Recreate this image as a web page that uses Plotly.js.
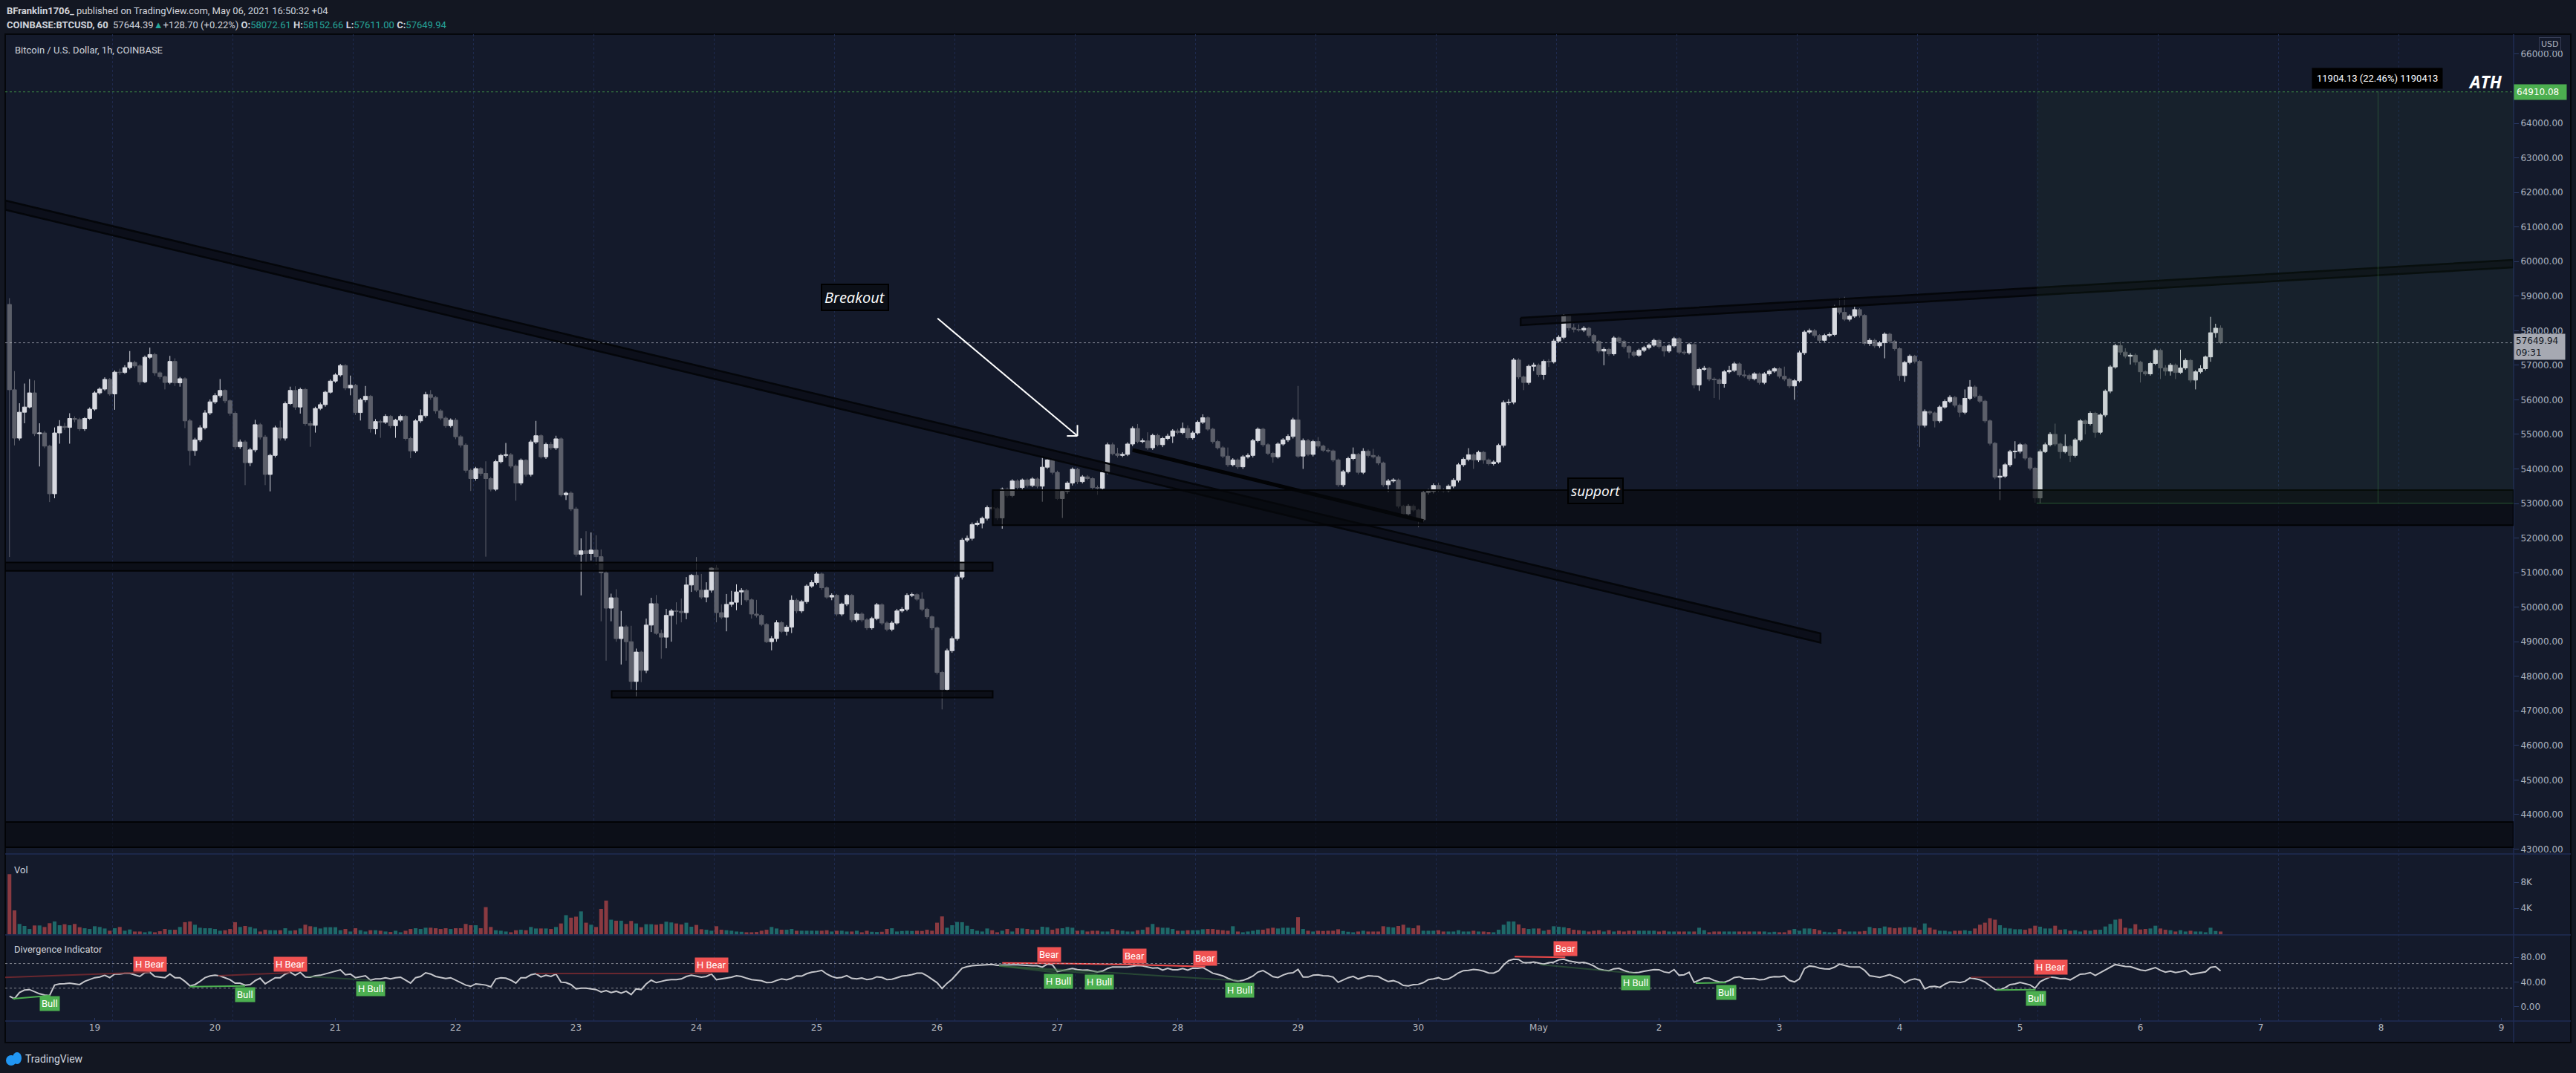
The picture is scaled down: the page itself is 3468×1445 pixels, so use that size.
<!DOCTYPE html>
<html><head><meta charset="utf-8">
<script src="https://cdn.plot.ly/plotly-3.0.1.min.js"></script>
<style>html,body{margin:0;padding:0;background:#131722;}#chart{width:3468px;height:1445px;}</style>
</head><body><div id="chart"></div>
<script>
// ---------------- DATA ----------------
// hourly candles, first candle at 2021-04-18 07:00 (hour -17 relative to 2021-04-19 00:00)
const FIRST_HOUR = -17;
const opens = [
58760,56290,54890,55640,55790,56200,55020,55040,54660,53280,
55040,55230,55200,55460,55430,55160,55460,55730,56200,56310,
56590,56170,56800,56790,56930,57080,56980,56520,57230,57310,
56780,56670,56500,57110,56490,56610,55390,54530,54840,55190,
55620,55940,56120,56270,55970,55610,54640,54780,54180,54550,
55280,54920,53840,54390,55190,54890,55890,56270,55790,56300,
55310,55260,55750,55860,56220,56540,56720,56990,56340,56420,
55630,56000,56100,55160,55370,55350,55520,55250,55410,55520,
54880,54520,55390,55540,56150,56070,55680,55470,55250,55410,
54930,54690,53960,53720,54010,53870,53720,53410,54210,54390,
54410,54080,53590,54250,53840,54780,54960,54350,54710,54610,
54870,53250,53300,52840,51530,51630,51550,51650,51460,50990,
49970,50270,49090,49430,49000,47850,48700,48170,49480,50100,
49240,49130,49760,49890,49880,49840,50640,50920,50490,50290,
50490,51130,49840,49710,50080,50140,50440,50480,50210,49800,
49760,49500,49000,49090,49550,49300,49420,50200,49890,50160,
50610,50710,50960,50560,50290,50340,49800,50090,50340,49630,
49800,49630,49400,49670,50070,49540,49360,49540,49890,49940,
50340,50360,50230,49940,49720,49400,48110,47620,48740,49090,
50870,51940,51990,52390,52430,52570,52880,52850,52580,53410,
53230,53650,53460,53680,53520,53710,53500,54050,54260,53900,
53140,53350,53590,53990,53630,53770,53720,53460,53440,53900,
54700,54440,54390,54420,54720,55170,54790,54810,54610,54970,
54700,54880,54950,55100,55050,55170,54900,55040,55350,55480,
55150,54790,54610,54370,54120,54260,54060,54350,54390,54820,
55150,54700,54450,54350,54720,54840,54940,55420,54370,54820,
54420,54790,54660,54540,54520,54260,53540,53920,54300,54420,
53900,54510,54390,54350,54170,53540,53650,53680,52920,52700,
52920,52810,52530,53320,53350,53520,53390,53370,53500,53670,
54120,54280,54410,54260,54480,54260,54150,54200,54680,55920,
55930,57150,56660,56500,56970,57000,56730,57110,57100,57700,
57810,58420,58080,58040,58020,58070,57860,57690,57410,57460,
57330,57790,57690,57540,57380,57290,57430,57510,57580,57720,
57540,57410,57560,57770,57380,57360,57600,56430,56880,56910,
56600,56580,56470,56810,56850,57040,56720,56700,56610,56750,
56500,56750,56830,56900,56680,56600,56400,56550,57360,57960,
58000,57860,57720,57860,57890,58690,58530,58330,58420,58610,
58440,57630,57720,57560,57650,57900,57690,57480,56700,57080,
57260,57110,55260,55660,55620,55390,55790,55950,56070,55840,
55640,56040,56370,56100,55960,55390,54740,53760,53790,54120,
54500,54510,54700,54310,54020,53160,54500,54700,55000,54720,
54500,54650,54390,54840,55390,55310,55610,55060,55560,56250,
56950,57570,57380,57260,57290,57090,56810,56750,57050,57430,
56920,56830,57000,56790,56920,57140,56570,56810,56900,57240,
57940,58072.61];
const highs = [
58940,56830,55900,56470,56600,56560,55320,55100,54700,55200,
55410,55330,55610,55520,55480,55500,55780,56250,56360,56650,
56630,56850,56900,57000,57410,57130,57030,57280,57510,57360,
56820,56700,57270,57200,56660,56650,55450,54900,55260,55700,
56010,56190,56600,56300,56010,55660,54850,54830,54610,55420,
55330,54980,54440,55250,55400,55950,56380,56390,56350,56340,
55380,55800,55920,56260,56590,56770,57040,57030,56700,56460,
56050,56400,56140,55440,55420,55580,55560,55450,55570,55560,
54930,55440,55720,56230,56280,56110,55730,55520,55460,55470,
54980,54740,54010,54060,54050,54220,53770,54270,54440,54750,
54460,54130,54300,54280,54840,55390,55000,54760,54780,54960,
54910,53340,53350,52900,51990,52200,52160,52080,51670,51050,
50390,50520,49890,49480,49460,48800,48740,49670,50270,50350,
49350,49950,49950,50140,50250,50870,50960,51450,50960,50720,
51150,51220,50080,50380,50470,50660,50550,50530,50250,50210,
49800,49540,49160,49620,49600,49480,50340,50250,50210,50660,
50780,51020,51000,50600,50400,50380,50130,50380,50380,49850,
49850,49680,49720,50120,50110,49590,49600,49950,50000,50400,
50420,50400,50430,49980,49760,49440,48160,48800,49150,50940,
52000,52070,52450,52500,52620,52940,52930,52890,53460,53460,
53700,53700,53720,53720,53760,53750,54340,54300,54300,53950,
53400,53640,54040,54030,53820,53820,53760,53520,53960,54760,
54760,54610,54480,54770,55230,55300,54880,55060,55020,55020,
54930,55020,55150,55160,55340,55260,55100,55400,55580,55520,
55190,54840,54660,54620,54310,54300,54400,54450,54870,55200,
55190,54740,54490,54770,54890,55000,55480,56400,54880,54870,
54840,54920,54700,54600,54560,54300,53970,54350,54620,54460,
54600,54560,54580,54400,54210,53710,53730,53720,52960,52980,
52970,52850,53380,53420,53580,53600,53440,53550,53730,54170,
54330,54600,54450,54530,54520,54300,54250,54730,55980,56020,
57210,57200,56700,57020,57070,57050,57160,57180,57760,57870,
58480,58470,58200,58180,58130,58110,57900,57730,57520,57500,
57840,57830,57730,57580,57430,57480,57560,57630,57770,57760,
57580,57610,57820,57810,57440,57650,57640,56930,56980,56950,
56650,56620,56860,56980,57100,57080,56860,56750,56800,56790,
56800,56880,56950,56940,56960,56640,56600,57420,58010,58060,
58050,57900,57910,57950,58750,58950,58980,58470,58700,58650,
58480,57780,57770,57700,57950,57940,57730,57520,57130,57310,
57300,57150,55720,55690,55660,55840,56010,56130,56110,55890,
56300,56570,56420,56150,56000,55430,54780,54000,54170,54550,
54800,54750,54740,54350,54060,54560,54760,55060,55310,54760,
55000,54700,54890,55440,55430,55660,55650,55610,56300,57000,
57620,57690,57490,57350,57340,57130,56850,57100,57480,57480,
57000,57060,57050,57450,57200,57180,56860,57000,57280,58400,
58200,58152.66];
const lows = [
51450,54680,54820,55320,55750,54950,54070,54600,53040,53150,
54730,55130,54730,55350,55100,55100,55420,55680,56150,56260,
56120,55710,56720,56750,56880,56920,56430,56480,57180,56700,
56600,56300,56450,56400,56380,55180,54100,54380,54780,55140,
55560,55880,56060,55900,55540,54560,54580,53530,54080,54480,
54850,53530,53350,54330,54820,54820,55850,55710,55600,55250,
54640,55050,55700,55800,56180,56490,56670,56280,56130,55560,
55400,55930,55050,55000,54900,55300,55180,54900,55360,54820,
54310,54460,55330,55480,56000,55600,55410,55190,55200,54860,
54620,53890,53360,53660,53800,51460,53350,53360,54160,54330,
54020,53080,53530,53780,53780,54720,54300,54290,54550,54550,
53200,53100,52780,51460,50340,51280,51350,51220,49590,48450,
49590,49000,48340,48450,47620,47420,47830,48090,49280,49200,
48510,48810,49000,49500,49560,49650,50440,50440,50230,50140,
50420,49560,49650,49300,50010,49910,50060,50150,49670,49700,
49450,48960,48750,49000,49250,49180,49250,49820,49830,50100,
50560,50650,50500,50240,50200,49740,49740,50030,49560,49570,
49570,49340,49350,49620,49480,49300,49300,49490,49840,49880,
50290,50180,49880,49660,49340,48050,47040,47560,48680,49030,
50800,51880,51930,52340,52280,52510,52800,52520,52270,53170,
53180,53400,53400,53460,53470,53440,53050,54000,53840,53100,
52580,53280,53520,53560,53580,53670,53390,53250,53400,53850,
54390,54330,54340,54370,54660,54740,54740,54550,54550,54650,
54630,54830,54750,55000,55000,54850,54850,54990,55300,55100,
54730,54560,54310,54060,54070,54000,54000,54300,54330,54770,
54640,54400,54180,54300,54670,54780,54880,54320,54000,54370,
54360,54600,54490,54470,54200,53480,53480,53870,54250,53840,
53850,54330,54300,54110,53480,53330,53600,52860,52640,52640,
52760,52310,52480,53260,53290,53330,53310,53320,53440,53610,
54060,54220,54000,54200,54150,54100,54100,54150,54620,55850,
55870,56600,56280,56440,56830,56660,56580,56950,57050,57650,
57750,58000,57950,57970,57960,57800,57620,57350,57000,57270,
57280,57640,57480,57200,57230,57240,57380,57460,57530,57480,
57250,57360,57510,57320,57300,57310,56330,56260,56840,56540,
56050,56000,56350,56760,56800,56660,56640,56550,56560,56440,
56450,56700,56780,56620,56540,56340,56000,56500,57300,57900,
57800,57660,57670,57810,57840,58470,58280,58270,58370,58380,
57570,57560,57500,57500,57200,57630,57420,56550,56520,57030,
57050,54630,55200,55560,55200,55330,55740,55900,55780,55500,
55580,55990,56050,55900,55330,54680,53700,53100,53740,54060,
54300,54450,54250,53960,53020,53006,54460,54650,54660,54300,
54450,54200,54330,54790,55000,55260,54900,55000,55500,56190,
56900,57300,57200,57020,57000,56500,56700,56700,57000,56600,
56700,56700,56600,56750,56870,56500,56300,56760,56850,57100,
57800,57611];
const closes = [
56290,54890,55640,55790,56200,55020,55040,54660,53280,55040,
55230,55200,55460,55430,55160,55460,55730,56200,56310,56590,
56170,56800,56790,56930,57080,56980,56520,57230,57310,56780,
56670,56500,57110,56490,56610,55390,54530,54840,55190,55620,
55940,56120,56270,55970,55610,54640,54780,54180,54550,55280,
54920,53840,54390,55190,54890,55890,56270,55790,56300,55310,
55260,55750,55860,56220,56540,56720,56990,56340,56420,55630,
56000,56100,55160,55370,55350,55520,55250,55410,55520,54880,
54520,55390,55540,56150,56070,55680,55470,55250,55410,54930,
54690,53960,53720,54010,53870,53720,53410,54210,54390,54410,
54080,53590,54250,53840,54780,54960,54350,54710,54610,54870,
53250,53300,52840,51530,51630,51550,51650,51460,50990,49970,
50270,49090,49430,49000,47850,48700,48170,49480,50100,49240,
49130,49760,49890,49880,49840,50640,50920,50490,50290,50490,
51130,49840,49710,50080,50140,50440,50480,50210,49800,49760,
49500,49000,49090,49550,49300,49420,50200,49890,50160,50610,
50710,50960,50560,50290,50340,49800,50090,50340,49630,49800,
49630,49400,49670,50070,49540,49360,49540,49890,49940,50340,
50360,50230,49940,49720,49400,48110,47620,48740,49090,50870,
51940,51990,52390,52430,52570,52880,52850,52580,53410,53230,
53650,53460,53680,53520,53710,53500,54050,54260,53900,53140,
53350,53590,53990,53630,53770,53720,53460,53440,53900,54700,
54440,54390,54420,54720,55170,54790,54810,54610,54970,54700,
54880,54950,55100,55050,55170,54900,55040,55350,55480,55150,
54790,54610,54370,54120,54260,54060,54350,54390,54820,55150,
54700,54450,54350,54720,54840,54940,55420,54370,54820,54420,
54790,54660,54540,54520,54260,53540,53920,54300,54420,53900,
54510,54390,54350,54170,53540,53650,53680,52920,52700,52920,
52810,52530,53320,53350,53520,53390,53370,53500,53670,54120,
54280,54410,54260,54480,54260,54150,54200,54680,55920,55930,
57150,56660,56500,56970,57000,56730,57110,57100,57700,57810,
58420,58080,58040,58020,58070,57860,57690,57410,57460,57330,
57790,57690,57540,57380,57290,57430,57510,57580,57720,57540,
57410,57560,57770,57380,57360,57600,56430,56880,56910,56600,
56580,56470,56810,56850,57040,56720,56700,56610,56750,56500,
56750,56830,56900,56680,56600,56400,56550,57360,57960,58000,
57860,57720,57860,57890,58690,58530,58330,58420,58610,58440,
57630,57720,57560,57650,57900,57690,57480,56700,57080,57260,
57110,55260,55660,55620,55390,55790,55950,56070,55840,55640,
56040,56370,56100,55960,55390,54740,53760,53790,54120,54500,
54510,54700,54310,54020,53160,54500,54700,55000,54720,54500,
54650,54390,54840,55390,55310,55610,55060,55560,56250,56950,
57570,57380,57260,57290,57090,56810,56750,57050,57430,56920,
56830,57000,56790,56920,57140,56570,56810,56900,57240,57940,
58072.61,57649.94];
const volumes = [
9220,3690,1614,1306,845,1383,1383,1153,1729,1998,
1421,1575,1421,1614,1114,960,845,1268,1153,922,
576,960,1153,576,768,461,461,346,461,346,
500,845,730,730,1153,1883,1998,1498,1037,960,
960,845,576,653,845,1883,1153,1306,1153,922,
461,730,653,653,653,960,576,653,922,1498,
1268,1153,922,1114,1114,1114,653,845,461,960,
653,461,653,653,576,461,384,576,346,576,
845,960,845,1037,1037,960,845,960,845,960,
960,1614,1421,1421,960,4188,1153,653,576,461,
346,653,730,653,1153,922,922,922,845,1153,
1690,2958,2574,2728,3535,1806,1498,1153,3919,5187,
2267,2113,2113,1614,2075,1690,1114,1575,1575,1498,
1614,1960,1844,1690,1537,1806,1191,1460,807,730,
576,1268,730,653,576,461,423,346,346,384,
576,730,1153,922,730,730,845,576,576,576,
576,576,576,653,461,576,576,461,461,576,
346,576,423,384,423,845,960,461,538,576,
538,576,538,730,576,1806,2766,1037,1421,1921,
1883,1345,845,576,461,922,653,346,576,845,
461,960,922,845,730,730,1191,1114,730,922,
960,1153,1037,576,653,461,576,576,461,461,
845,653,576,461,461,653,730,1114,1614,1114,
1037,1037,845,576,576,653,653,653,807,845,
845,730,653,576,1268,461,346,461,576,730,
730,922,1037,922,1037,1037,1037,2651,845,576,
461,576,538,576,576,807,538,423,346,461,
576,461,461,461,1268,1153,1076,1306,1498,1037,
960,1383,576,576,576,653,461,461,461,653,
461,461,576,461,461,384,346,730,1498,1998,
1998,1537,960,845,922,922,576,730,1268,1191,
1114,960,730,653,576,461,576,653,461,653,
461,576,461,576,576,576,576,576,576,461,
576,461,461,461,461,461,461,1037,653,346,
461,461,461,461,461,461,461,461,461,461,
461,346,423,346,346,653,845,576,922,922,
845,653,423,346,346,845,461,461,461,461,
538,1153,960,960,1229,1076,960,1037,1114,1153,
1037,730,1690,1037,768,576,576,461,576,
576,653,538,922,1498,1806,2497,2267,1421,999,
922,807,807,730,922,1345,1191,922,922,1345,
730,807,576,653,461,653,576,730,730,1229,
1614,2267,2382,1037,922,1575,768,845,922,1345,
922,730,653,461,653,461,576,461,461,346,
1037,538,461];
const rsiValues = [
16.9,12.9,22.9,26.9,27.7,24.5,20.9,18.9,18.1,35,
37,37.4,38.2,37,35.8,41,43.8,47,48.2,51,
47,53,53,54.2,54.2,51.8,49,55,55.8,49,
48.2,47,53,47,47,41,33.7,35.8,41,47,
49.8,51,49.8,47,43.8,38.2,38.2,35,35.8,42.2,
46.2,37,42.2,47,47,53,55.8,51,55.8,48.2,
47.8,50.2,51,53,55,57,59.8,51.8,53,47,
49,50.2,43,45,45,47,45,47,47.8,43,
38.2,47,49,55,53,49,47,45.8,47,43,
39.8,35,33,37,36.2,35,32.1,45,47,46.2,
43,38.2,47,47,51.8,53.4,48.2,51,49,53,
39.8,39,35.8,28.9,30.1,30.1,28.9,27.7,23.7,26.1,
22.9,25,22.1,25,19.7,28.9,27.7,37,43,39,
41,43,43.8,43.8,45,49,51,49,47.8,49,
53,43.8,45,47,47.8,50.2,49,46.2,44,43,
42,39,39.5,42.5,45,43.5,46,50,49.5,53.5,
56,57,59,53,49,46.5,47.5,50.5,46,45,
46.5,44,45,48.5,47.5,44,44.5,47,49.5,50.5,
52,54.5,54.5,50,44.5,39,29.5,38,44.5,53,
62.5,65,66.5,67,67.5,68.5,68.6,67,67.5,68.5,
68.1,67.9,67.3,67.5,66.5,66.5,64.2,69.1,68,57,
58.8,59.7,61.8,60.2,59.2,59.6,58,56.2,57.7,62,
64.5,64.5,64.6,64.3,65.7,66.8,66.1,64.5,62.5,63.1,
59.3,62.2,59.8,59.8,62,59.4,62.5,62.4,63.5,59,
54.3,52.3,50,46,43,41.6,42.6,45.7,49.7,56.2,
58.7,54,48.7,47.3,51.3,54.2,55,60.5,48,48,
51,51.8,50.2,49.8,48,39.5,43,47,49.3,45,
47.5,50.2,49.5,49,44.5,40.8,42.2,39.5,34.4,33.7,
35.8,36.2,39,43.9,45,47,43.8,45,49.5,55,
58.5,59,60.5,59.6,57.7,54.8,54.5,58,67.7,74.7,
77.1,76.5,71.3,71.2,72.6,70.4,69,71.2,72.2,76,
77,74.3,73.2,71.3,71.9,69.7,66,61,59.2,58.5,
61.5,62.2,58.7,56,54.9,55.6,57.5,58.7,60.1,60,
56.4,55,60.2,51,51.8,55.8,39.5,43,46.5,46.3,
42.5,40.2,39.8,42.5,47.3,48.5,45.4,45.4,45.6,43.5,
44.3,47.5,48.7,48.3,49.7,42.7,40.2,45,61.7,66,
65.1,62.6,61.3,61,64,69.1,67,64.6,64.4,64.5,
59,50.2,48.9,47.6,49.7,52,48.6,45.6,38.6,43.1,
45,43,28.8,32.5,33,31.3,36.5,40.2,40.2,39.2,
41,46.5,45.5,43.5,40,34.5,28,27.5,30.8,35.8,
37,39.2,37.6,35.3,30,40.5,44.7,48,47.2,45.3,
45.6,43.5,48,52.7,53.2,55.4,50.7,55,59,63.2,
68.4,66.8,65.3,65,62.6,59.5,58.3,60.6,63.5,59,
56,57.8,55.5,56.7,58.9,52.2,53.5,54.9,56.5,63.7,
65,58];

// x-axis day ticks
const dayTickDates = ['2021-04-19','2021-04-20','2021-04-21','2021-04-22','2021-04-23','2021-04-24','2021-04-25','2021-04-26','2021-04-27','2021-04-28','2021-04-29','2021-04-30','2021-05-01','2021-05-02','2021-05-03','2021-05-04','2021-05-05','2021-05-06','2021-05-07','2021-05-08','2021-05-09'];
const dayTickLabels = ['19','20','21','22','23','24','25','26','27','28','29','30','May','2','3','4','5','6','7','8','9'];
const volTickVals = [4000,8000], volTickText = ['4K','8K'];
const rsiTickVals = [0,40,80], rsiTickText = ['0.00','40.00','80.00'];

// divergence indicator: lines (kind, hour1, value1, hour2, value2) and labels (kind, hour, value)
const divLineKind = ['Bull','H Bear','Bull','H Bear','H Bull','H Bear','Bear','Bear','Bear','H Bull','H Bull','H Bull','Bear','H Bull','Bull','Bull','H Bear'];
const divLineH1 = [-16.3,-18,19,24.6,42.5,88,181,190,207,180.4,180.4,180.4,283.2,288.3,319.3,379.3,374.2];
const divLineV1 = [12.9,47.5,32.5,50.2,49,53.8,71.1,70.3,68.3,66.3,66.3,66.3,81.1,68.3,38.2,26.9,47.8];
const divLineH2 = [-8.9,11,30,39,55,123,190,207,221.5,192,200,228.4,293.3,307.3,325.4,387.1,390.2];
const divLineV2 = [18.1,55.8,33.7,55,43,53.8,70.3,68.3,65,55,53,42.2,79.9,53.8,39,27.7,48.2];
const divLabelKind = ['Bull','H Bear','Bull','H Bear','H Bull','H Bear','Bear','Bear','Bear','H Bull','H Bull','H Bull','Bear','H Bull','Bull','Bull','H Bear'];
const divLabelH = [-9,11,30,39,55,123,190.4,207.4,221.5,192.2,200.3,228.4,293.3,307.3,325.4,387.2,390.2];
const divLabelV = [17.5,56,32,56.5,41.5,55,72,69.5,66.3,53.8,53,39.8,81,51.8,35.8,26.1,51];

// key levels
const athPrice = 64910.08, lastPrice = 57649.94, measureLow = 53006;

// ---------------- HELPERS ----------------
function hd(h){
  const d = new Date(Date.UTC(2021,3,19) + Math.round(h*3600000));
  const p = n => String(n).padStart(2,'0');
  return d.getUTCFullYear()+'-'+p(d.getUTCMonth()+1)+'-'+p(d.getUTCDate())+' '+p(d.getUTCHours())+':'+p(d.getUTCMinutes())+':'+p(d.getUTCSeconds());
}
const PL=7, PR=3384, PT=46, PB=1375;
const pxX = x => (x-PL)/(PR-PL);
const pxY = y => (PB-y)/(PB-PT);

const n = closes.length;
[opens,highs,lows,volumes,rsiValues].forEach((a,i)=>{ if(a.length!==n) console.log('length mismatch', i, a.length, n); });
const times = closes.map((_,i)=>hd(FIRST_HOUR+i));
const volColors = closes.map((c,i)=> c>=opens[i] ? '#1e6869' : '#8a3a41');

// ---------------- TRACES ----------------
const traces = [];
traces.push({type:'candlestick', x:times, open:opens, high:highs, low:lows, close:closes,
  increasing:{line:{color:'#d8dae1',width:1},fillcolor:'#d8dae1'},
  decreasing:{line:{color:'#5c5f6a',width:1},fillcolor:'#5c5f6a'},
  whiskerwidth:0, xaxis:'x', yaxis:'y', hoverinfo:'skip', showlegend:false});
traces.push({type:'bar', x:times, y:volumes, marker:{color:volColors, line:{width:0}}, xaxis:'x', yaxis:'y2', hoverinfo:'skip'});
traces.push({type:'scatter', mode:'lines', x:times, y:rsiValues, line:{color:'#c6c7cc', width:2}, xaxis:'x', yaxis:'y3', hoverinfo:'skip'});

// divergence lines
const divStyle = {
  'Bull':  {color:'#4caf50', width:2},
  'H Bull':{color:'rgba(56,110,62,0.55)', width:2},
  'Bear':  {color:'#f04a4a', width:2},
  'H Bear':{color:'rgba(120,42,48,0.85)', width:2}
};
Object.keys(divStyle).forEach(k=>{
  const xs=[], ys=[];
  divLineKind.forEach((kk,i)=>{ if(kk===k){ xs.push(hd(divLineH1[i]),hd(divLineH2[i]),null); ys.push(divLineV1[i],divLineV2[i],null);} });
  traces.push({type:'scatter', mode:'lines', x:xs, y:ys, line:divStyle[k], xaxis:'x', yaxis:'y3', hoverinfo:'skip', connectgaps:false});
});

// trend-line bands drawn by the author (time/price coordinates)
function band(h1,top1,bot1,h2,top2,bot2){
  return {type:'scatter', mode:'lines', x:[hd(h1),hd(h2),hd(h2),hd(h1),hd(h1)], y:[top1,top2,bot2,bot1,top1],
    fill:'toself', fillcolor:'rgba(6,8,13,0.55)', line:{color:'#04060a', width:2.5}, xaxis:'x', yaxis:'y', hoverinfo:'skip'};
}
traces.push(band(-17.85,61767,61500,344.2,49240,48974));
traces.push(band(284.4,58372,58157,482.4,60048,59833));
traces.push({type:'scatter', mode:'lines', x:[hd(207.0),hd(265.0)], y:[54548,52490], line:{color:'#020305', width:5}, xaxis:'x', yaxis:'y', hoverinfo:'skip'});

// ---------------- SHAPES ----------------
const shapes = [];
// frame
shapes.push({type:'rect', xref:'paper', yref:'paper', x0:pxX(7), x1:pxX(3461), y0:pxY(1404), y1:pxY(46),
  fillcolor:'#141a2b', line:{color:'#05070b', width:2}, layer:'below'});
// vertical dotted grid
for(let d=0; d<20; d++){
  shapes.push({type:'line', xref:'x', yref:'paper', x0:hd(24*d+3.55), x1:hd(24*d+3.55), y0:0, y1:1,
    line:{color:'#1f2b4f', width:1, dash:'dot'}, layer:'below'});
}
// pane separators and axis line
[1150,1259,1375].forEach(y=>shapes.push({type:'line', xref:'paper', yref:'paper', x0:pxX(7), x1:pxX(3461), y0:pxY(y), y1:pxY(y), line:{color:'#1f2d55', width:1.5}}));
shapes.push({type:'line', xref:'paper', yref:'paper', x0:1, x1:1, y0:pxY(1404), y1:pxY(46), line:{color:'#1f2d55', width:1.5}});
// horizontal zones
const zone = (h1,h2,p1,p2,fill,lw)=>({type:'rect', xref:'x', yref:'y', x0:hd(h1), x1:hd(h2), y0:p1, y1:p2, fillcolor:fill, line:{color:'#020305', width:lw}});
shapes.push(zone(-17.85,179.1,51052,51292,'rgba(6,8,12,0.6)',2));
shapes.push(zone(103.1,179.1,47382,47577,'rgba(6,8,12,0.6)',2));
shapes.push(zone(179.1,482.4,52369,53387,'rgba(6,8,12,0.6)',2));
shapes.push(zone(-17.85,482.4,43052,43783,'rgba(6,8,12,0.6)',2));
// price range measurement
shapes.push({type:'rect', xref:'x', yref:'y', x0:hd(387.3), x1:hd(482.4), y0:measureLow, y1:athPrice, fillcolor:'rgba(70,130,60,0.08)', line:{width:0}});
shapes.push({type:'line', xref:'x', yref:'y', x0:hd(455.4), x1:hd(455.4), y0:measureLow, y1:athPrice, line:{color:'rgba(76,175,80,0.35)', width:1}});
shapes.push({type:'line', xref:'x', yref:'y', x0:hd(387.3), x1:hd(482.4), y0:measureLow, y1:measureLow, line:{color:'rgba(76,175,80,0.45)', width:1}});
// level lines
shapes.push({type:'line', xref:'paper', yref:'y', x0:0, x1:1, y0:athPrice, y1:athPrice, line:{color:'rgba(76,175,80,0.75)', width:1, dash:'dot'}});
shapes.push({type:'line', xref:'paper', yref:'y', x0:0, x1:1, y0:lastPrice, y1:lastPrice, line:{color:'rgba(200,203,212,0.6)', width:1, dash:'dot'}});
[70,30].forEach(v=>shapes.push({type:'line', xref:'paper', yref:'y3', x0:0, x1:1, y0:v, y1:v, line:{color:'rgba(205,205,210,0.6)', width:1, dash:'dot'}}));
// breakout arrow
shapes.push({type:'line', xref:'x', yref:'y', x0:hd(168.1), y0:58355, x1:hd(196.0), y1:54954, line:{color:'#ffffff', width:2}});
shapes.push({type:'line', xref:'x', yref:'y', x0:hd(196.0), y0:54954, x1:hd(196.0), y1:55270, line:{color:'#ffffff', width:2}});
shapes.push({type:'line', xref:'x', yref:'y', x0:hd(196.0), y0:54954, x1:hd(193.9), y1:54954, line:{color:'#ffffff', width:2}});
// TradingView logo
shapes.push({type:'circle', xref:'paper', yref:'paper', x0:pxX(8), x1:pxX(22), y0:pxY(1435), y1:pxY(1421), fillcolor:'#2196f3', line:{width:0}});
shapes.push({type:'circle', xref:'paper', yref:'paper', x0:pxX(17), x1:pxX(29), y0:pxY(1433), y1:pxY(1417), fillcolor:'#2196f3', line:{width:0}});

// ---------------- ANNOTATIONS ----------------
const ann = [];
const teal = '#26a69a';
ann.push({xref:'paper', yref:'paper', x:pxX(7), y:pxY(15), xanchor:'left', yanchor:'middle', showarrow:false,
  text:'<b>BFranklin1706_</b> published on TradingView.com, May 06, 2021 16:50:32 +04', font:{family:'Roboto', size:13, color:'#d1d4dc'}});
ann.push({xref:'paper', yref:'paper', x:pxX(7), y:pxY(34), xanchor:'left', yanchor:'middle', showarrow:false,
  text:'<b>COINBASE:BTCUSD, 60</b>  57644.39<span style="color:'+teal+'">▲</span>+128.70 (+0.22%) <b>O:</b><span style="color:'+teal+'">58072.61</span> <b>H:</b><span style="color:'+teal+'">58152.66</span> <b>L:</b><span style="color:'+teal+'">57611.00</span> <b>C:</b><span style="color:'+teal+'">57649.94</span>',
  font:{family:'Roboto', size:13, color:'#d1d4dc'}});
ann.push({xref:'paper', yref:'paper', x:pxX(18), y:pxY(68), xanchor:'left', yanchor:'middle', showarrow:false,
  text:'Bitcoin / U.S. Dollar, 1h, COINBASE', font:{family:'Roboto', size:13, color:'#d1d4dc'}});
ann.push({xref:'paper', yref:'paper', x:pxX(17), y:pxY(1171), xanchor:'left', yanchor:'middle', showarrow:false,
  text:'Vol', font:{family:'Roboto', size:13, color:'#d1d4dc'}});
ann.push({xref:'paper', yref:'paper', x:pxX(17), y:pxY(1278), xanchor:'left', yanchor:'middle', showarrow:false,
  text:'Divergence Indicator', font:{family:'Roboto', size:13, color:'#d1d4dc'}});
ann.push({xref:'paper', yref:'paper', x:pxX(32), y:pxY(1426), xanchor:'left', yanchor:'middle', showarrow:false,
  text:'TradingView', font:{family:'Roboto', size:14, color:'#d1d4dc'}});
// USD
ann.push({xref:'paper', yref:'paper', x:pxX(3433), y:pxY(60), xanchor:'center', yanchor:'middle', showarrow:false,
  text:'USD', font:{family:'DejaVu Sans', size:11, color:'#b2b5be'}, bordercolor:'#363d55', borderwidth:1, borderpad:2, bgcolor:'#141a2b'});
// axis labels for ATH & last price
ann.push({xref:'paper', yref:'y', x:1, y:athPrice, xanchor:'left', yanchor:'middle', showarrow:false,
  text:'64910.08', bgcolor:'#4caf50', font:{family:'DejaVu Sans', size:12, color:'#ffffff'}, borderpad:3, width:64, align:'left'});
ann.push({xref:'paper', yref:'y', x:1, y:lastPrice, xanchor:'left', yanchor:'middle', yshift:-5, showarrow:false,
  text:'57649.94<br>09:31', bgcolor:'#a6a9b2', font:{family:'DejaVu Sans', size:12, color:'#131722'}, borderpad:2, width:64, align:'left'});
// chart drawings text
ann.push({xref:'x', yref:'y', x:hd(151.6), y:58965, showarrow:false, text:'<i>Breakout</i>',
  font:{family:'Open Sans', size:20, color:'#ffffff'}, bgcolor:'#0b0f17', bordercolor:'#000000', borderwidth:2, borderpad:3});
ann.push({xref:'x', yref:'y', x:hd(299.3), y:53370, showarrow:false, text:'<i>support</i>',
  font:{family:'Open Sans', size:19, color:'#ffffff'}, bgcolor:'#0b0f17', bordercolor:'#000000', borderwidth:2, borderpad:3});
ann.push({xref:'x', yref:'y', x:hd(476.8), y:65205, showarrow:false, text:'<b><i>ATH</i></b>',
  font:{family:'Open Sans', size:23, color:'#ffffff'}});
ann.push({xref:'x', yref:'y', x:hd(455.2), y:65291, showarrow:false, text:'11904.13 (22.46%) 1190413',
  font:{family:'Roboto', size:13, color:'#ffffff'}, bgcolor:'#000000', borderpad:6});
// divergence labels
divLabelKind.forEach((k,i)=>{
  const bear = k.indexOf('Bear')>=0;
  ann.push({xref:'x', yref:'y3', x:hd(divLabelH[i]), y:divLabelV[i], xanchor:'center', yanchor: bear?'bottom':'top',
    showarrow:false, text:k, bgcolor: bear?'#f05252':'#4caf50', font:{family:'Roboto', size:13, color:'#ffffff'}, borderpad:2});
});

// ---------------- LAYOUT ----------------
const axisFont = {family:'DejaVu Sans', size:12, color:'#b2b5be'};
const layout = {
  width:3468, height:1445,
  margin:{l:PL, r:3468-PR, t:PT, b:1445-PB, pad:0},
  paper_bgcolor:'#131722', plot_bgcolor:'rgba(0,0,0,0)',
  showlegend:false, hovermode:false, dragmode:false,
  bargap:0.25, boxgap:0.22, boxgroupgap:0,
  font:axisFont,
  xaxis:{type:'date', range:[hd(-17.85), hd(482.44)], anchor:'y3', showgrid:false, zeroline:false, showline:false,
    tickvals:dayTickDates, ticktext:dayTickLabels, ticks:'inside', ticklen:4, tickcolor:'#2a3a66', tickfont:axisFont,
    rangeslider:{visible:false}, fixedrange:true},
  yaxis:{domain:[pxY(1150),1], range:[42858,66580], side:'right', anchor:'x', dtick:1000, tick0:0, tickformat:'.2f',
    showgrid:false, zeroline:false, showline:false, ticks:'outside', ticklen:6, tickcolor:'#2a3a66', tickfont:axisFont, fixedrange:true},
  yaxis2:{domain:[pxY(1259),pxY(1150)], range:[-57,12312], side:'right', anchor:'x', tickvals:volTickVals, ticktext:volTickText,
    showgrid:false, zeroline:false, showline:false, ticks:'outside', ticklen:6, tickcolor:'#2a3a66', tickfont:axisFont, fixedrange:true},
  yaxis3:{domain:[0,pxY(1259)], range:[-23.3,116.5], side:'right', anchor:'x', tickvals:rsiTickVals, ticktext:rsiTickText,
    showgrid:false, zeroline:false, showline:false, ticks:'outside', ticklen:6, tickcolor:'#2a3a66', tickfont:axisFont, fixedrange:true},
  shapes:shapes, annotations:ann
};
Plotly.newPlot('chart', traces, layout, {displayModeBar:false, staticPlot:true});
</script>
</body></html>
